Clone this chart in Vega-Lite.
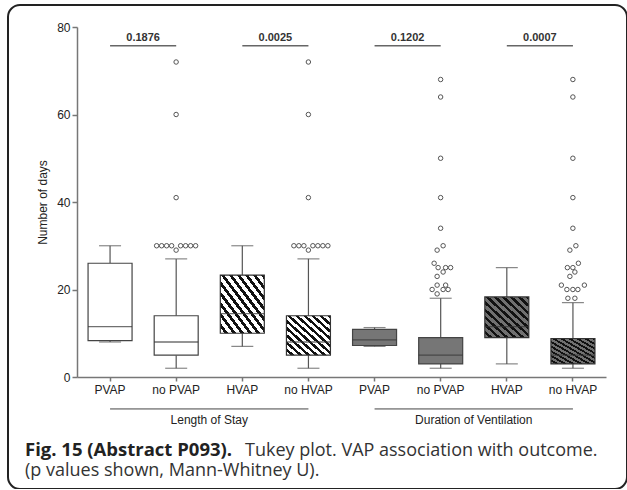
{
  "$schema": "https://vega.github.io/schema/vega-lite/v6.json",
  "width": 619,
  "height": 484,
  "autosize": "none",
  "padding": {"left": 8, "top": 5, "right": 0, "bottom": 0},
  "background": "white",
  "config": {
    "view": {"stroke": "#222222", "strokeWidth": 2, "cornerRadius": 12},
    "font": "Liberation Sans"
  },
  "datasets": {
    "boxes": [
      {"key": "LoS: PVAP", "outcome": "LoS", "vap": "PVAP", "min": 8, "q1": 8.3, "median": 11.5, "q3": 26, "max": 30},
      {"key": "LoS: no PVAP", "outcome": "LoS", "vap": "PVAP", "min": 2, "q1": 5, "median": 8, "q3": 14, "max": 27},
      {"key": "LoS: HVAP", "outcome": "LoS", "vap": "HVAP", "min": 7, "q1": 10, "median": 14.5, "q3": 23.3, "max": 30},
      {"key": "LoS: no HVAP", "outcome": "LoS", "vap": "HVAP", "min": 2, "q1": 5, "median": 8, "q3": 14, "max": 27},
      {"key": "DoV: PVAP", "outcome": "DoV", "vap": "PVAP", "min": 7, "q1": 7.2, "median": 8.5, "q3": 10.9, "max": 11.3},
      {"key": "DoV: no PVAP", "outcome": "DoV", "vap": "PVAP", "min": 2, "q1": 3, "median": 5, "q3": 9, "max": 18},
      {"key": "DoV: HVAP", "outcome": "DoV", "vap": "HVAP", "min": 3, "q1": 9, "median": 11.5, "q3": 18.3, "max": 25},
      {"key": "DoV: no HVAP", "outcome": "DoV", "vap": "HVAP", "min": 2, "q1": 3, "median": 5, "q3": 8.8, "max": 17}
    ],
    "outliers": [
      {"key": "LoS: no PVAP", "days": 72, "dodge": 0},
      {"key": "LoS: no PVAP", "days": 60, "dodge": 0},
      {"key": "LoS: no PVAP", "days": 41, "dodge": 0},
      {"key": "LoS: no PVAP", "days": 30, "dodge": -3.9},
      {"key": "LoS: no PVAP", "days": 30, "dodge": -2.9},
      {"key": "LoS: no PVAP", "days": 30, "dodge": -1.9},
      {"key": "LoS: no PVAP", "days": 30, "dodge": -0.9},
      {"key": "LoS: no PVAP", "days": 30, "dodge": 0.9},
      {"key": "LoS: no PVAP", "days": 30, "dodge": 1.9},
      {"key": "LoS: no PVAP", "days": 30, "dodge": 2.9},
      {"key": "LoS: no PVAP", "days": 30, "dodge": 3.9},
      {"key": "LoS: no PVAP", "days": 29, "dodge": 0},
      {"key": "LoS: no HVAP", "days": 72, "dodge": 0},
      {"key": "LoS: no HVAP", "days": 60, "dodge": 0},
      {"key": "LoS: no HVAP", "days": 41, "dodge": 0},
      {"key": "LoS: no HVAP", "days": 30, "dodge": -2.9},
      {"key": "LoS: no HVAP", "days": 30, "dodge": -1.9},
      {"key": "LoS: no HVAP", "days": 30, "dodge": -0.9},
      {"key": "LoS: no HVAP", "days": 30, "dodge": 0.9},
      {"key": "LoS: no HVAP", "days": 30, "dodge": 1.9},
      {"key": "LoS: no HVAP", "days": 30, "dodge": 2.9},
      {"key": "LoS: no HVAP", "days": 30, "dodge": 3.9},
      {"key": "LoS: no HVAP", "days": 29, "dodge": 0},
      {"key": "DoV: no PVAP", "days": 68, "dodge": 0},
      {"key": "DoV: no PVAP", "days": 64, "dodge": 0},
      {"key": "DoV: no PVAP", "days": 50, "dodge": 0},
      {"key": "DoV: no PVAP", "days": 41, "dodge": 0},
      {"key": "DoV: no PVAP", "days": 34, "dodge": 0},
      {"key": "DoV: no PVAP", "days": 30, "dodge": 0.5},
      {"key": "DoV: no PVAP", "days": 29, "dodge": -0.7},
      {"key": "DoV: no PVAP", "days": 26, "dodge": -1.3},
      {"key": "DoV: no PVAP", "days": 25, "dodge": -0.5},
      {"key": "DoV: no PVAP", "days": 25, "dodge": 1},
      {"key": "DoV: no PVAP", "days": 25, "dodge": 2},
      {"key": "DoV: no PVAP", "days": 24, "dodge": 0.5},
      {"key": "DoV: no PVAP", "days": 23, "dodge": -0.7},
      {"key": "DoV: no PVAP", "days": 21, "dodge": -0.7},
      {"key": "DoV: no PVAP", "days": 21, "dodge": 1},
      {"key": "DoV: no PVAP", "days": 20, "dodge": -1.7},
      {"key": "DoV: no PVAP", "days": 20, "dodge": 0.5},
      {"key": "DoV: no PVAP", "days": 20, "dodge": 1.5},
      {"key": "DoV: no PVAP", "days": 19, "dodge": -0.7},
      {"key": "DoV: no HVAP", "days": 68, "dodge": 0},
      {"key": "DoV: no HVAP", "days": 64, "dodge": 0},
      {"key": "DoV: no HVAP", "days": 50, "dodge": 0},
      {"key": "DoV: no HVAP", "days": 41, "dodge": 0},
      {"key": "DoV: no HVAP", "days": 34, "dodge": 0},
      {"key": "DoV: no HVAP", "days": 30, "dodge": 0.6},
      {"key": "DoV: no HVAP", "days": 29, "dodge": -0.6},
      {"key": "DoV: no HVAP", "days": 26, "dodge": 1.1},
      {"key": "DoV: no HVAP", "days": 25, "dodge": -1.1},
      {"key": "DoV: no HVAP", "days": 25, "dodge": 0},
      {"key": "DoV: no HVAP", "days": 24, "dodge": 0.4},
      {"key": "DoV: no HVAP", "days": 23, "dodge": -0.6},
      {"key": "DoV: no HVAP", "days": 21, "dodge": -2.3},
      {"key": "DoV: no HVAP", "days": 21, "dodge": 2.3},
      {"key": "DoV: no HVAP", "days": 20, "dodge": -1.2},
      {"key": "DoV: no HVAP", "days": 20, "dodge": 0},
      {"key": "DoV: no HVAP", "days": 20, "dodge": 1},
      {"key": "DoV: no HVAP", "days": 18, "dodge": -1},
      {"key": "DoV: no HVAP", "days": 18, "dodge": 0.4}
    ],
    "pvalues": [
      {"from": "LoS: PVAP", "to": "LoS: no PVAP", "p": "0.1876"},
      {"from": "LoS: HVAP", "to": "LoS: no HVAP", "p": "0.0025"},
      {"from": "DoV: PVAP", "to": "DoV: no PVAP", "p": "0.1202"},
      {"from": "DoV: HVAP", "to": "DoV: no HVAP", "p": "0.0007"}
    ],
    "groups": [
      {"first": "LoS: PVAP", "last": "LoS: no HVAP", "mid": "LoS: HVAP", "label": "Length of Stay"},
      {"first": "DoV: PVAP", "last": "DoV: no HVAP", "mid": "DoV: HVAP", "label": "Duration of Ventilation"}
    ],
    "caption": [
      {"line": 1, "part": "bold", "text": "Fig. 15 (Abstract P093)."},
      {"line": 1, "part": "regular", "text": "Tukey plot. VAP association with outcome."},
      {"line": 2, "part": "regular", "text": "(p values shown, Mann-Whitney U)."}
    ]
  },
  "layer": [
    {
      "data": {"name": "boxes"},
      "mark": {"type": "rule", "color": "#555555", "strokeWidth": 1.2},
      "encoding": {
        "x": {
          "field": "key", "type": "nominal", "sort": null,
          "scale": {"type": "band", "domain": ["LoS: PVAP", "LoS: no PVAP", "LoS: HVAP", "LoS: no HVAP", "DoV: PVAP", "DoV: no PVAP", "DoV: HVAP", "DoV: no HVAP"], "range": [69, 598], "paddingInner": 0, "paddingOuter": 0},
          "axis": {"title": null, "labelExpr": "split(datum.label, ': ')[1]", "labelAngle": 0, "offset": -112, "domainColor": "#777777", "domainWidth": 1.5, "tickColor": "#777777", "tickWidth": 1.5, "tickSize": 4, "labelFont": "Liberation Sans", "labelFontSize": 12, "labelColor": "#222222", "labelPadding": 3, "grid": false}
        },
        "y": {
          "field": "min", "type": "quantitative",
          "scale": {"domain": [0, 80], "range": [372, 22], "nice": false, "zero": false},
          "axis": {"title": "Number of days", "values": [0, 20, 40, 60, 80], "offset": -69, "domainColor": "#777777", "domainWidth": 1.5, "tickColor": "#777777", "tickWidth": 1.5, "tickSize": 5, "labelFont": "Liberation Sans", "labelFontSize": 12, "labelColor": "#222222", "labelPadding": 2, "titleFont": "Liberation Sans", "titleFontSize": 12, "titleFontWeight": "normal", "titleColor": "#222222", "titlePadding": 7, "grid": false}
        },
        "y2": {"field": "q1"}
      }
    },
    {
      "data": {"name": "boxes"},
      "mark": {"type": "rule", "color": "#555555", "strokeWidth": 1.2},
      "encoding": {
        "x": {"field": "key", "type": "nominal"},
        "y": {"field": "q3", "type": "quantitative"},
        "y2": {"field": "max"}
      }
    },
    {
      "data": {"name": "boxes"},
      "mark": {"type": "tick", "color": "#555555", "size": 22, "thickness": 1.2},
      "encoding": {
        "x": {"field": "key", "type": "nominal"},
        "y": {"field": "max", "type": "quantitative"}
      }
    },
    {
      "data": {"name": "boxes"},
      "mark": {"type": "tick", "color": "#555555", "size": 22, "thickness": 1.2},
      "encoding": {
        "x": {"field": "key", "type": "nominal"},
        "y": {"field": "min", "type": "quantitative"}
      }
    },
    {
      "data": {"name": "boxes"},
      "transform": [{"filter": "datum.outcome == 'LoS' && datum.vap == 'PVAP'"}],
      "mark": {"type": "bar", "width": 44, "fill": "#ffffff", "stroke": "#444444", "strokeWidth": 1.2},
      "encoding": {
        "x": {"field": "key", "type": "nominal"},
        "y": {"field": "q1", "type": "quantitative"},
        "y2": {"field": "q3"}
      }
    },
    {
      "data": {"name": "boxes"},
      "transform": [{"filter": "datum.outcome == 'DoV' && datum.vap == 'PVAP'"}],
      "mark": {"type": "bar", "width": 44, "fill": "#767676", "stroke": "#444444", "strokeWidth": 1.2},
      "encoding": {
        "x": {"field": "key", "type": "nominal"},
        "y": {"field": "q1", "type": "quantitative"},
        "y2": {"field": "q3"}
      }
    },
    {
      "data": {"name": "boxes"},
      "transform": [{"filter": "datum.outcome == 'LoS' && datum.vap == 'HVAP'"}],
      "mark": {
        "type": "bar", "width": 44, "stroke": "#333333", "strokeWidth": 1.2,
        "fill": {"gradient": "linear", "x1": 0, "y1": 1, "x2": 1, "y2": 0, "stops": [
          {"offset": 0, "color": "#ffffff"}, {"offset": 0.05, "color": "#ffffff"}, {"offset": 0.05, "color": "#111111"}, {"offset": 0.0909, "color": "#111111"},
          {"offset": 0.0909, "color": "#ffffff"}, {"offset": 0.1409, "color": "#ffffff"}, {"offset": 0.1409, "color": "#111111"}, {"offset": 0.1818, "color": "#111111"},
          {"offset": 0.1818, "color": "#ffffff"}, {"offset": 0.2318, "color": "#ffffff"}, {"offset": 0.2318, "color": "#111111"}, {"offset": 0.2727, "color": "#111111"},
          {"offset": 0.2727, "color": "#ffffff"}, {"offset": 0.3227, "color": "#ffffff"}, {"offset": 0.3227, "color": "#111111"}, {"offset": 0.3636, "color": "#111111"},
          {"offset": 0.3636, "color": "#ffffff"}, {"offset": 0.4136, "color": "#ffffff"}, {"offset": 0.4136, "color": "#111111"}, {"offset": 0.4545, "color": "#111111"},
          {"offset": 0.4545, "color": "#ffffff"}, {"offset": 0.5045, "color": "#ffffff"}, {"offset": 0.5045, "color": "#111111"}, {"offset": 0.5455, "color": "#111111"},
          {"offset": 0.5455, "color": "#ffffff"}, {"offset": 0.5955, "color": "#ffffff"}, {"offset": 0.5955, "color": "#111111"}, {"offset": 0.6364, "color": "#111111"},
          {"offset": 0.6364, "color": "#ffffff"}, {"offset": 0.6864, "color": "#ffffff"}, {"offset": 0.6864, "color": "#111111"}, {"offset": 0.7273, "color": "#111111"},
          {"offset": 0.7273, "color": "#ffffff"}, {"offset": 0.7773, "color": "#ffffff"}, {"offset": 0.7773, "color": "#111111"}, {"offset": 0.8182, "color": "#111111"},
          {"offset": 0.8182, "color": "#ffffff"}, {"offset": 0.8682, "color": "#ffffff"}, {"offset": 0.8682, "color": "#111111"}, {"offset": 0.9091, "color": "#111111"},
          {"offset": 0.9091, "color": "#ffffff"}, {"offset": 0.9591, "color": "#ffffff"}, {"offset": 0.9591, "color": "#111111"}, {"offset": 1, "color": "#111111"}
        ]}
      },
      "encoding": {
        "x": {"field": "key", "type": "nominal"},
        "y": {"field": "q1", "type": "quantitative"},
        "y2": {"field": "q3"}
      }
    },
    {
      "data": {"name": "boxes"},
      "transform": [{"filter": "datum.outcome == 'DoV' && datum.vap == 'HVAP'"}],
      "mark": {
        "type": "bar", "width": 44, "stroke": "#333333", "strokeWidth": 1.2,
        "fill": {"gradient": "linear", "x1": 0, "y1": 1, "x2": 1, "y2": 0, "stops": [
          {"offset": 0, "color": "#707070"}, {"offset": 0.05, "color": "#707070"}, {"offset": 0.05, "color": "#111111"}, {"offset": 0.0909, "color": "#111111"},
          {"offset": 0.0909, "color": "#707070"}, {"offset": 0.1409, "color": "#707070"}, {"offset": 0.1409, "color": "#111111"}, {"offset": 0.1818, "color": "#111111"},
          {"offset": 0.1818, "color": "#707070"}, {"offset": 0.2318, "color": "#707070"}, {"offset": 0.2318, "color": "#111111"}, {"offset": 0.2727, "color": "#111111"},
          {"offset": 0.2727, "color": "#707070"}, {"offset": 0.3227, "color": "#707070"}, {"offset": 0.3227, "color": "#111111"}, {"offset": 0.3636, "color": "#111111"},
          {"offset": 0.3636, "color": "#707070"}, {"offset": 0.4136, "color": "#707070"}, {"offset": 0.4136, "color": "#111111"}, {"offset": 0.4545, "color": "#111111"},
          {"offset": 0.4545, "color": "#707070"}, {"offset": 0.5045, "color": "#707070"}, {"offset": 0.5045, "color": "#111111"}, {"offset": 0.5455, "color": "#111111"},
          {"offset": 0.5455, "color": "#707070"}, {"offset": 0.5955, "color": "#707070"}, {"offset": 0.5955, "color": "#111111"}, {"offset": 0.6364, "color": "#111111"},
          {"offset": 0.6364, "color": "#707070"}, {"offset": 0.6864, "color": "#707070"}, {"offset": 0.6864, "color": "#111111"}, {"offset": 0.7273, "color": "#111111"},
          {"offset": 0.7273, "color": "#707070"}, {"offset": 0.7773, "color": "#707070"}, {"offset": 0.7773, "color": "#111111"}, {"offset": 0.8182, "color": "#111111"},
          {"offset": 0.8182, "color": "#707070"}, {"offset": 0.8682, "color": "#707070"}, {"offset": 0.8682, "color": "#111111"}, {"offset": 0.9091, "color": "#111111"},
          {"offset": 0.9091, "color": "#707070"}, {"offset": 0.9591, "color": "#707070"}, {"offset": 0.9591, "color": "#111111"}, {"offset": 1, "color": "#111111"}
        ]}
      },
      "encoding": {
        "x": {"field": "key", "type": "nominal"},
        "y": {"field": "q1", "type": "quantitative"},
        "y2": {"field": "q3"}
      }
    },
    {
      "data": {"name": "boxes"},
      "mark": {"type": "tick", "color": "#333333", "size": 44, "thickness": 1.3},
      "encoding": {
        "x": {"field": "key", "type": "nominal"},
        "y": {"field": "median", "type": "quantitative"}
      }
    },
    {
      "data": {"name": "outliers"},
      "mark": {"type": "point", "shape": "circle", "filled": false, "size": 20, "stroke": "#555555", "strokeWidth": 1, "opacity": 1},
      "encoding": {
        "x": {"field": "key", "type": "nominal"},
        "xOffset": {"field": "dodge", "type": "quantitative", "scale": {"domain": [-5, 5], "range": [8, 58]}},
        "y": {"field": "days", "type": "quantitative"}
      }
    },
    {
      "data": {"name": "pvalues"},
      "mark": {"type": "rule", "color": "#666666", "strokeWidth": 1.5},
      "encoding": {
        "x": {"field": "from", "type": "nominal"},
        "x2": {"field": "to"},
        "y": {"datum": 75.7, "type": "quantitative"}
      }
    },
    {
      "data": {"name": "pvalues"},
      "mark": {"type": "text", "font": "Liberation Sans", "fontSize": 11, "fontWeight": "bold", "color": "#333333", "baseline": "middle", "align": "center"},
      "encoding": {
        "x": {"field": "to", "type": "nominal", "bandPosition": 0},
        "y": {"datum": 77.6, "type": "quantitative"},
        "text": {"field": "p"}
      }
    },
    {
      "data": {"name": "groups"},
      "mark": {"type": "rule", "color": "#444444", "strokeWidth": 1},
      "encoding": {
        "x": {"field": "first", "type": "nominal"},
        "x2": {"field": "last"},
        "y": {"datum": -7.3, "type": "quantitative"}
      }
    },
    {
      "data": {"name": "groups"},
      "mark": {"type": "text", "font": "Liberation Sans", "fontSize": 12, "color": "#222222", "baseline": "middle", "align": "center"},
      "encoding": {
        "x": {"field": "mid", "type": "nominal", "bandPosition": 0},
        "y": {"datum": -9.8, "type": "quantitative"},
        "text": {"field": "label"}
      }
    },
    {
      "data": {"name": "caption"},
      "transform": [{"filter": "datum.part == 'bold'"}],
      "mark": {"type": "text", "font": "Open Sans", "fontSize": 18.5, "fontWeight": "bold", "color": "#222222", "baseline": "alphabetic", "align": "left", "dx": -52},
      "encoding": {
        "x": {"datum": "LoS: PVAP", "type": "nominal", "bandPosition": 0},
        "y": {"datum": -18.1, "type": "quantitative"},
        "text": {"field": "text"}
      }
    },
    {
      "data": {"name": "caption"},
      "transform": [{"filter": "datum.part == 'regular' && datum.line == 1"}],
      "mark": {"type": "text", "font": "Open Sans", "fontSize": 18, "color": "#333333", "baseline": "alphabetic", "align": "left", "dx": 168},
      "encoding": {
        "x": {"datum": "LoS: PVAP", "type": "nominal", "bandPosition": 0},
        "y": {"datum": -18.1, "type": "quantitative"},
        "text": {"field": "text"}
      }
    },
    {
      "data": {"name": "caption"},
      "transform": [{"filter": "datum.line == 2"}],
      "mark": {"type": "text", "font": "Open Sans", "fontSize": 18, "color": "#333333", "baseline": "alphabetic", "align": "left", "dx": -52},
      "encoding": {
        "x": {"datum": "LoS: PVAP", "type": "nominal", "bandPosition": 0},
        "y": {"datum": -22.6, "type": "quantitative"},
        "text": {"field": "text"}
      }
    }
  ]
}
